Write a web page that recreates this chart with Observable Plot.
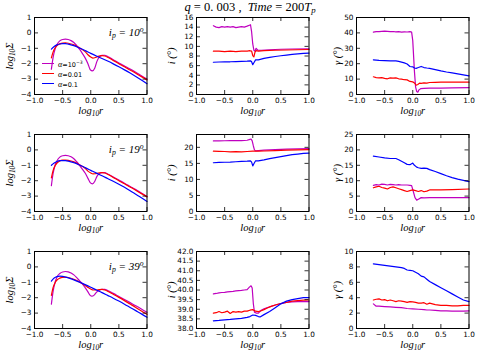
<!DOCTYPE html>
<html><head><meta charset="utf-8">
<script src="https://cdn.jsdelivr.net/npm/d3@7"></script>
<script src="https://cdn.jsdelivr.net/npm/@observablehq/plot@0.6"></script>
<style>
body{margin:0;background:#fff;}
#fig{position:relative;width:479px;height:359px;overflow:hidden;background:#fff;}
#fig svg{position:absolute;overflow:visible;background:transparent;}
.title{position:absolute;top:0px;left:250px;transform:translateX(-50%);white-space:nowrap;font-family:"Liberation Serif",serif;font-size:12.5px;color:#000;}
.title i{font-style:italic}
.title sub{font-size:70%;font-style:italic;vertical-align:-2px;line-height:0}
.leg{position:absolute;font-family:"DejaVu Sans",sans-serif;font-size:6.5px;color:#000;white-space:nowrap;}
.leg .ln{position:absolute;left:0;width:12px;height:0;border-top:1.4px solid;}
.leg .tx{position:absolute;left:16px;transform:translateY(-50%);}
.leg .tx i{font-family:"Liberation Serif",serif;font-size:8px}
.leg sup{font-size:70%;line-height:0;vertical-align:3px}
</style></head><body><div id="fig"></div>
<script>
// ---------- data ----------
const xTicks = [-1, -0.5, 0, 0.5, 1];
const sigTicks = [-4, -3, -2, -1, 0, 1];
const inc10Ticks = [0, 2, 4, 6, 8, 10, 12, 14, 16];
const inc19Ticks = [0, 5, 10, 15, 20];
const inc39Ticks = [38, 38.5, 39, 39.5, 40, 40.5, 41, 41.5, 42];
const gam10Ticks = [0, 10, 20, 30, 40, 50];
const gam19Ticks = [0, 5, 10, 15, 20, 25];
const gam39Ticks = [0, 2, 4, 6, 8, 10];
const alphaLabels = ["α=10^{−3}", "α=0.01", "α=0.1"];
const ipLabels = ["i_p = 10^o", "i_p = 19^o", "i_p = 39^o"];

const sig10_m = [[-0.70,-2.36],[-0.67,-1.6],[-0.63,-1.0],[-0.6,-0.75],[-0.55,-0.52],[-0.5,-0.43],[-0.45,-0.41],[-0.4,-0.43],[-0.35,-0.5],[-0.3,-0.62],[-0.25,-0.82],[-0.2,-1.06],[-0.15,-1.33],[-0.1,-1.62],[-0.05,-2.0],[-0.01,-2.38],[0.03,-2.47],[0.07,-2.3],[0.11,-1.85],[0.15,-1.58],[0.2,-1.46],[0.25,-1.45],[0.3,-1.53],[0.4,-1.74],[0.5,-1.95],[0.6,-2.15],[0.7,-2.35],[0.8,-2.56],[0.9,-2.78],[1.0,-3.0]];
const sig10_r = [[-0.70,-1.62],[-0.67,-1.25],[-0.63,-0.95],[-0.6,-0.82],[-0.55,-0.71],[-0.5,-0.66],[-0.45,-0.65],[-0.4,-0.67],[-0.3,-0.77],[-0.2,-0.96],[-0.1,-1.22],[-0.05,-1.42],[0.0,-1.57],[0.04,-1.64],[0.08,-1.6],[0.13,-1.52],[0.2,-1.47],[0.25,-1.5],[0.3,-1.58],[0.4,-1.79],[0.5,-2.0],[0.6,-2.2],[0.7,-2.41],[0.8,-2.62],[0.9,-2.84],[1.0,-3.05]];
const sig10_b = [[-0.70,-1.05],[-0.65,-0.88],[-0.6,-0.78],[-0.55,-0.72],[-0.5,-0.7],[-0.45,-0.7],[-0.4,-0.73],[-0.3,-0.83],[-0.2,-0.98],[-0.1,-1.15],[0.0,-1.33],[0.1,-1.5],[0.2,-1.66],[0.3,-1.83],[0.4,-2.01],[0.5,-2.2],[0.6,-2.4],[0.7,-2.61],[0.8,-2.83],[0.9,-3.06],[1.0,-3.3]];

const sig19_m = [[-0.70,-2.32],[-0.67,-1.55],[-0.63,-0.95],[-0.6,-0.7],[-0.55,-0.47],[-0.5,-0.38],[-0.45,-0.36],[-0.4,-0.38],[-0.35,-0.45],[-0.3,-0.57],[-0.25,-0.77],[-0.2,-1.0],[-0.15,-1.25],[-0.1,-1.5],[-0.05,-1.85],[-0.01,-2.12],[0.03,-2.2],[0.07,-2.05],[0.11,-1.72],[0.15,-1.55],[0.2,-1.48],[0.25,-1.48],[0.3,-1.56],[0.4,-1.76],[0.5,-1.96],[0.6,-2.16],[0.7,-2.37],[0.8,-2.58],[0.9,-2.8],[1.0,-3.02]];
const sig19_r = [[-0.70,-1.82],[-0.67,-1.35],[-0.63,-1.0],[-0.6,-0.85],[-0.55,-0.72],[-0.5,-0.67],[-0.45,-0.66],[-0.4,-0.68],[-0.3,-0.78],[-0.2,-0.97],[-0.1,-1.2],[-0.05,-1.38],[0.0,-1.5],[0.04,-1.56],[0.08,-1.55],[0.13,-1.5],[0.2,-1.47],[0.25,-1.5],[0.3,-1.58],[0.4,-1.79],[0.5,-2.0],[0.6,-2.2],[0.7,-2.41],[0.8,-2.62],[0.9,-2.84],[1.0,-3.05]];
const sig19_b = [[-0.7,-1.0],[-0.65,-0.85],[-0.6,-0.75],[-0.55,-0.7],[-0.5,-0.69],[-0.45,-0.7],[-0.4,-0.73],[-0.3,-0.83],[-0.2,-0.98],[-0.1,-1.15],[0.0,-1.33],[0.1,-1.51],[0.2,-1.68],[0.3,-1.86],[0.4,-2.04],[0.5,-2.23],[0.6,-2.43],[0.7,-2.65],[0.8,-2.88],[0.9,-3.11],[1.0,-3.35]];

const sig39_m = [[-0.70,-2.42],[-0.67,-1.6],[-0.63,-0.95],[-0.6,-0.65],[-0.55,-0.43],[-0.5,-0.33],[-0.45,-0.3],[-0.4,-0.32],[-0.35,-0.4],[-0.3,-0.52],[-0.25,-0.7],[-0.2,-0.9],[-0.15,-1.1],[-0.1,-1.35],[-0.05,-1.62],[-0.01,-1.85],[0.02,-1.9],[0.06,-1.83],[0.1,-1.65],[0.15,-1.52],[0.2,-1.45],[0.25,-1.46],[0.3,-1.53],[0.4,-1.72],[0.5,-1.92],[0.6,-2.12],[0.7,-2.32],[0.8,-2.52],[0.9,-2.73],[1.0,-2.95]];
const sig39_r = [[-0.70,-1.85],[-0.67,-1.35],[-0.63,-1.0],[-0.6,-0.85],[-0.55,-0.73],[-0.5,-0.68],[-0.45,-0.67],[-0.4,-0.69],[-0.3,-0.8],[-0.2,-0.98],[-0.1,-1.2],[-0.05,-1.33],[0.0,-1.44],[0.05,-1.5],[0.1,-1.5],[0.15,-1.47],[0.2,-1.46],[0.25,-1.5],[0.3,-1.58],[0.4,-1.78],[0.5,-1.98],[0.6,-2.19],[0.7,-2.41],[0.8,-2.63],[0.9,-2.86],[1.0,-3.08]];
const sig39_b = [[-0.7,-0.92],[-0.65,-0.72],[-0.6,-0.63],[-0.55,-0.6],[-0.5,-0.62],[-0.45,-0.66],[-0.4,-0.71],[-0.3,-0.84],[-0.2,-0.99],[-0.1,-1.15],[0.0,-1.32],[0.1,-1.5],[0.2,-1.67],[0.3,-1.85],[0.4,-2.03],[0.5,-2.22],[0.6,-2.42],[0.7,-2.63],[0.8,-2.84],[0.9,-3.05],[1.0,-3.27]];

const inc10_m = [[-0.7,14.3],[-0.65,14.0],[-0.6,13.9],[-0.55,14.1],[-0.5,14.0],[-0.45,14.1],[-0.4,14.0],[-0.35,14.1],[-0.3,13.9],[-0.25,14.0],[-0.2,14.1],[-0.15,14.0],[-0.1,14.2],[-0.06,14.4],[-0.04,14.5],[-0.02,13.0],[0.0,10.5],[0.02,9.2],[0.04,9.0],[0.06,9.6],[0.09,9.2],[0.15,9.2],[0.3,9.3],[0.5,9.4],[0.7,9.45],[1.0,9.5]];
const inc10_r = [[-0.7,9.0],[-0.6,9.0],[-0.5,8.9],[-0.4,9.0],[-0.3,8.9],[-0.2,9.0],[-0.1,9.0],[-0.05,9.1],[-0.02,9.0],[0.0,8.1],[0.02,7.8],[0.04,8.8],[0.06,9.1],[0.1,9.0],[0.2,9.1],[0.4,9.2],[0.6,9.25],[0.8,9.3],[1.0,9.35]];
const inc10_b = [[-0.7,6.7],[-0.6,6.75],[-0.5,6.8],[-0.4,6.8],[-0.3,6.85],[-0.2,6.9],[-0.1,6.95],[-0.04,7.0],[-0.02,6.8],[0.0,6.2],[0.02,6.6],[0.05,7.2],[0.1,7.2],[0.2,7.5],[0.3,7.7],[0.4,7.9],[0.5,8.05],[0.6,8.2],[0.7,8.35],[0.8,8.45],[0.9,8.55],[1.0,8.6]];

const inc19_m = [[-0.7,22.0],[-0.6,22.0],[-0.5,22.05],[-0.4,22.1],[-0.3,22.1],[-0.2,22.1],[-0.1,22.2],[-0.05,22.5],[-0.03,22.6],[-0.01,22.0],[0.01,20.5],[0.03,19.2],[0.05,18.9],[0.1,19.0],[0.2,19.1],[0.4,19.3],[0.6,19.45],[0.8,19.55],[1.0,19.6]];
const inc19_r = [[-0.7,18.8],[-0.6,18.75],[-0.5,18.7],[-0.4,18.6],[-0.3,18.65],[-0.2,18.6],[-0.1,18.7],[0.0,18.8],[0.1,18.8],[0.2,18.85],[0.4,19.0],[0.6,19.1],[0.8,19.2],[1.0,19.3]];
const inc19_b = [[-0.7,15.2],[-0.6,15.3],[-0.5,15.35],[-0.4,15.4],[-0.3,15.5],[-0.2,15.6],[-0.1,15.7],[-0.04,15.8],[-0.02,15.4],[0.0,14.2],[0.02,14.9],[0.05,15.8],[0.1,15.8],[0.2,16.1],[0.3,16.5],[0.4,16.8],[0.5,17.1],[0.6,17.4],[0.7,17.7],[0.8,17.9],[0.9,18.1],[1.0,18.2]];

const inc39_m = [[-0.7,39.8],[-0.65,39.82],[-0.6,39.85],[-0.55,39.87],[-0.5,39.88],[-0.45,39.9],[-0.4,39.92],[-0.35,39.93],[-0.3,39.95],[-0.25,39.97],[-0.2,39.98],[-0.15,40.0],[-0.1,40.02],[-0.06,40.15],[-0.03,40.22],[-0.01,40.1],[0.01,39.3],[0.03,38.85],[0.06,38.8],[0.1,38.8],[0.15,38.95],[0.2,39.02],[0.25,39.08],[0.3,39.12],[0.4,39.22],[0.5,39.3],[0.6,39.35],[0.7,39.38],[0.8,39.4],[0.9,39.4],[1.0,39.4]];
const inc39_r = [[-0.7,38.8],[-0.65,38.82],[-0.6,38.88],[-0.55,38.82],[-0.5,38.85],[-0.45,38.9],[-0.4,38.78],[-0.35,38.88],[-0.3,38.85],[-0.25,38.88],[-0.2,38.85],[-0.15,38.9],[-0.1,38.9],[-0.05,38.95],[0.0,38.98],[0.05,38.9],[0.1,38.88],[0.15,38.92],[0.2,38.98],[0.25,39.05],[0.3,39.12],[0.4,39.22],[0.5,39.3],[0.6,39.36],[0.7,39.42],[0.8,39.45],[0.9,39.47],[1.0,39.48]];
const inc39_b = [[-0.7,38.4],[-0.6,38.42],[-0.5,38.45],[-0.4,38.47],[-0.3,38.5],[-0.2,38.53],[-0.1,38.58],[-0.05,38.62],[0.0,38.7],[0.05,38.68],[0.1,38.62],[0.13,38.6],[0.2,38.72],[0.3,38.88],[0.4,39.08],[0.5,39.28],[0.6,39.42],[0.7,39.5],[0.8,39.55],[0.9,39.6],[1.0,39.6]];

const gam10_m = [[-0.7,40.5],[-0.65,40.8],[-0.6,40.8],[-0.55,41.0],[-0.5,41.2],[-0.45,41.0],[-0.4,40.8],[-0.35,40.9],[-0.3,40.7],[-0.25,40.8],[-0.2,40.5],[-0.15,40.7],[-0.1,40.6],[-0.05,40.8],[-0.02,40.5],[0.0,35],[0.03,15],[0.05,5],[0.07,2.0],[0.09,1.5],[0.11,3.0],[0.14,3.8],[0.2,4.0],[0.3,4.1],[0.5,4.2],[0.7,4.3],[1.0,4.5]];
const gam10_r = [[-0.7,11.5],[-0.65,11.0],[-0.6,10.8],[-0.55,11.0],[-0.5,10.5],[-0.45,10.2],[-0.4,10.8],[-0.35,10.6],[-0.3,10.8],[-0.25,10.2],[-0.2,10.0],[-0.15,9.6],[-0.1,9.5],[-0.05,8.5],[0.0,8.2],[0.03,7.5],[0.06,6.0],[0.09,6.5],[0.12,7.4],[0.15,7.2],[0.2,7.6],[0.25,7.4],[0.3,7.8],[0.4,7.9],[0.5,8.0],[0.7,8.0],[1.0,8.0]];
const gam10_b = [[-0.7,22.5],[-0.6,22.2],[-0.5,22.0],[-0.4,21.8],[-0.3,21.8],[-0.25,21.5],[-0.2,21.0],[-0.15,20.5],[-0.1,19.8],[-0.05,18.2],[0.0,18.0],[0.03,17.2],[0.06,17.0],[0.1,17.5],[0.15,18.2],[0.2,17.5],[0.25,17.2],[0.3,17.0],[0.4,16.2],[0.5,15.3],[0.6,14.6],[0.7,14.0],[0.8,13.4],[0.9,12.8],[1.0,12.1]];

const gam19_m = [[-0.7,8.5],[-0.65,8.7],[-0.6,8.6],[-0.55,8.9],[-0.5,8.8],[-0.45,8.6],[-0.4,8.8],[-0.35,8.7],[-0.3,8.6],[-0.25,8.7],[-0.2,8.6],[-0.15,8.6],[-0.1,8.6],[-0.05,8.5],[-0.02,8.4],[0.01,6.5],[0.04,4.5],[0.07,3.7],[0.1,4.0],[0.15,4.5],[0.2,4.4],[0.3,4.5],[0.5,4.5],[0.7,4.5],[1.0,4.5]];
const gam19_r = [[-0.7,7.7],[-0.65,8.0],[-0.6,8.2],[-0.55,7.8],[-0.5,7.6],[-0.45,7.3],[-0.4,7.8],[-0.35,8.0],[-0.3,7.7],[-0.25,7.4],[-0.2,7.1],[-0.15,6.8],[-0.1,6.5],[-0.05,6.8],[0.0,7.0],[0.05,6.8],[0.1,6.5],[0.15,6.8],[0.2,6.4],[0.25,6.6],[0.3,7.0],[0.4,7.0],[0.5,7.0],[0.7,7.1],[1.0,7.3]];
const gam19_b = [[-0.7,18.0],[-0.6,17.7],[-0.5,17.4],[-0.4,17.2],[-0.3,17.2],[-0.25,16.8],[-0.2,16.3],[-0.15,15.8],[-0.1,15.3],[-0.05,15.2],[-0.02,15.5],[0.0,15.7],[0.03,15.0],[0.07,14.4],[0.1,14.2],[0.15,14.0],[0.2,14.1],[0.25,14.0],[0.3,13.6],[0.4,13.0],[0.5,12.3],[0.6,11.6],[0.7,11.0],[0.8,10.5],[0.9,10.1],[1.0,9.7]];

const gam39_m = [[-0.7,3.2],[-0.65,2.9],[-0.6,2.9],[-0.5,2.85],[-0.4,2.8],[-0.3,2.75],[-0.2,2.7],[-0.1,2.6],[0.0,2.55],[0.1,2.5],[0.2,2.45],[0.25,2.4],[0.3,2.4],[0.4,2.35],[0.5,2.3],[0.6,2.3],[0.7,2.25],[0.8,2.25],[0.9,2.25],[1.0,2.3]];
const gam39_r = [[-0.7,3.7],[-0.65,3.8],[-0.6,3.85],[-0.55,3.7],[-0.5,3.75],[-0.45,3.6],[-0.4,3.7],[-0.35,3.6],[-0.3,3.5],[-0.25,3.6],[-0.2,3.55],[-0.15,3.5],[-0.1,3.4],[-0.05,3.5],[0.0,3.45],[0.05,3.4],[0.1,3.3],[0.15,3.3],[0.2,3.35],[0.25,3.15],[0.3,3.3],[0.4,3.1],[0.5,3.0],[0.6,3.0],[0.7,2.95],[0.8,2.95],[0.9,3.0],[1.0,3.0]];
const gam39_b = [[-0.7,8.4],[-0.6,8.3],[-0.5,8.2],[-0.4,8.1],[-0.3,8.0],[-0.2,7.9],[-0.15,7.8],[-0.1,7.6],[-0.05,7.55],[0.0,7.5],[0.05,7.3],[0.1,7.1],[0.15,6.8],[0.2,6.7],[0.25,6.4],[0.3,6.1],[0.4,5.7],[0.5,5.3],[0.6,4.9],[0.7,4.5],[0.8,4.1],[0.9,3.7],[1.0,3.5]];

// ---------- layout & style ----------
const COLORS = ["#bf00bf", "#ff0000", "#0000ff"];
const W = 112.5, H = 77;
const colLeft = [34, 195.5, 356];
const rowTop = [17, 134, 251];
const yLabelOffset = [25, 25, 19];
const M = {l: 34, r: 8, t: 8, b: 26};
const SERIF = "Liberation Serif";
const SANS = "DejaVu Sans";
const fmtInt = d3.format("d"), fmt1 = d3.format(".1f");

const panels = [
  {r:0,c:0,dom:[-4,1],ticks:sigTicks,fmt:fmtInt,s:[sig10_m,sig10_r,sig10_b],lab:"log_{10}Σ",curve:"monotone-x",note:ipLabels[0]},
  {r:0,c:1,dom:[0,16],ticks:inc10Ticks,fmt:fmtInt,s:[inc10_m,inc10_r,inc10_b],lab:"i (°)",curve:"linear"},
  {r:0,c:2,dom:[0,50],ticks:gam10Ticks,fmt:fmtInt,s:[gam10_m,gam10_r,gam10_b],lab:"γ (°)",curve:"linear"},
  {r:1,c:0,dom:[-4,1],ticks:sigTicks,fmt:fmtInt,s:[sig19_m,sig19_r,sig19_b],lab:"log_{10}Σ",curve:"monotone-x",note:ipLabels[1]},
  {r:1,c:1,dom:[0,24],ticks:inc19Ticks,fmt:fmtInt,s:[inc19_m,inc19_r,inc19_b],lab:"i (°)",curve:"linear"},
  {r:1,c:2,dom:[0,25],ticks:gam19Ticks,fmt:fmtInt,s:[gam19_m,gam19_r,gam19_b],lab:"γ (°)",curve:"linear"},
  {r:2,c:0,dom:[-4,1],ticks:sigTicks,fmt:fmtInt,s:[sig39_m,sig39_r,sig39_b],lab:"log_{10}Σ",curve:"monotone-x",note:ipLabels[2]},
  {r:2,c:1,dom:[38,42],ticks:inc39Ticks,fmt:fmt1,s:[inc39_m,inc39_r,inc39_b],lab:"i (°)",curve:"linear"},
  {r:2,c:2,dom:[0,10],ticks:gam39Ticks,fmt:fmtInt,s:[gam39_m,gam39_r,gam39_b],lab:"γ (°)",curve:"linear"}
];

// convert _x / ^x markup into tspans
function rich(root) {
  root.querySelectorAll("text").forEach(t => {
    const s = t.textContent;
    if (!/[_^]/.test(s) || t.children.length) return;
    const fs = parseFloat(getComputedStyle(t).fontSize) || 10;
    t.textContent = "";
    const add = (str, kind) => {
      const sp = document.createElementNS("http://www.w3.org/2000/svg", "tspan");
      sp.textContent = str;
      if (kind) {
        sp.setAttribute("font-size", (fs * 0.7).toFixed(2));
        sp.setAttribute("baseline-shift", kind === "_" ? (-0.2 * fs).toFixed(2) : (0.38 * fs).toFixed(2));
      }
      t.appendChild(sp);
    };
    const re = /([_^])(\{[^}]*\}|.)/g;
    let last = 0, m;
    while ((m = re.exec(s))) {
      if (m.index > last) add(s.slice(last, m.index));
      add(m[2].startsWith("{") ? m[2].slice(1, -1) : m[2], m[1]);
      last = re.lastIndex;
    }
    if (last < s.length) add(s.slice(last));
  });
}

const fig = document.getElementById("fig");

for (const p of panels) {
  const marks = [
    ...p.s.map((d, i) => Plot.line(d, {x: v => v[0], y: v => v[1], stroke: COLORS[i], strokeWidth: 1.2, curve: p.curve})),
    Plot.tickX(xTicks, {x: d => d, insetTop: H - 4, stroke: "#000", strokeWidth: 0.8}),
    Plot.tickX(xTicks, {x: d => d, insetBottom: H - 4, stroke: "#000", strokeWidth: 0.8}),
    Plot.tickY(p.ticks, {y: d => d, insetRight: W - 4, stroke: "#000", strokeWidth: 0.8}),
    Plot.tickY(p.ticks, {y: d => d, insetLeft: W - 4, stroke: "#000", strokeWidth: 0.8}),
    Plot.frame({stroke: "#000", strokeWidth: 1}),
    Plot.text(xTicks, {x: d => d, frameAnchor: "bottom", lineAnchor: "top", dy: 3.2, text: d => fmt1(d), fontFamily: SANS, fontSize: 7.3}),
    Plot.text(p.ticks, {y: d => d, frameAnchor: "left", textAnchor: "end", dx: -3, text: d => p.fmt(d), fontFamily: SANS, fontSize: 7.3}),
    Plot.text(["log_{10}r"], {frameAnchor: "bottom", lineAnchor: "middle", dy: 16.5, fontFamily: SERIF, fontStyle: "italic", fontSize: 10.5}),
    Plot.text([p.lab], {frameAnchor: "left", rotate: -90, textAnchor: "middle", lineAnchor: "middle", dx: -yLabelOffset[p.c], fontFamily: SERIF, fontStyle: "italic", fontSize: 10.5})
  ];
  if (p.note) marks.push(Plot.text([p.note], {frameAnchor: "top-right", textAnchor: "end", lineAnchor: "middle", dx: -3.5, dy: 15, fontFamily: SERIF, fontStyle: "italic", fontSize: 11}));
  const svg = Plot.plot({
    width: W + M.l + M.r, height: H + M.t + M.b,
    marginLeft: M.l, marginRight: M.r, marginTop: M.t, marginBottom: M.b,
    x: {domain: [-1, 1], axis: null},
    y: {domain: p.dom, axis: null},
    style: {background: "transparent", overflow: "visible", fontFamily: SANS},
    marks
  });
  svg.style.left = (colLeft[p.c] - M.l) + "px";
  svg.style.top = (rowTop[p.r] - M.t) + "px";
  fig.appendChild(svg);
  rich(svg);
}

// title
const title = document.createElement("div");
title.className = "title";
title.innerHTML = "<i>q</i> = 0. 003 ,&nbsp; <i>Time</i> = 200<i>T</i><sub>p</sub>";
fig.appendChild(title);

// legend (first panel)
const leg = document.createElement("div");
leg.className = "leg";
leg.style.left = "42px"; leg.style.top = "64px";
alphaLabels.forEach((lab, i) => {
  const ln = document.createElement("div");
  ln.className = "ln"; ln.style.top = (i * 10 - 0.7) + "px"; ln.style.borderTopColor = COLORS[i];
  const tx = document.createElement("div");
  tx.className = "tx"; tx.style.top = (i * 10) + "px";
  tx.innerHTML = lab.replace("α", "<i>α</i>").replace(/\^\{([^}]*)\}/, "<sup>$1</sup>");
  leg.appendChild(ln); leg.appendChild(tx);
});
fig.appendChild(leg);
</script></body></html>
